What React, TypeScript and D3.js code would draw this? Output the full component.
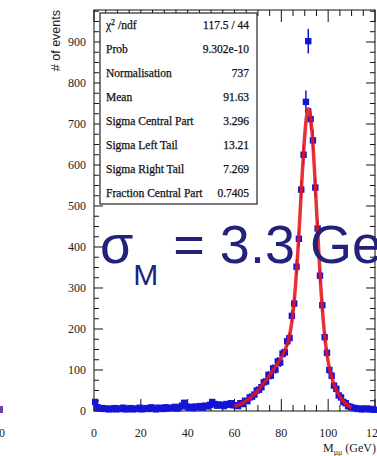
import React from 'react';
import * as d3 from 'd3';

// Histogram: 1 GeV bins from 0 to 120 GeV (bin i covers [i, i+1))
const binLow = d3.range(0, 120, 1);
const counts = [
  22, 9, 6, 7, 5, 6, 4, 5, 7, 4, 6, 5, 8, 4, 5, 7, 4, 6, 5, 8,
  4, 6, 7, 5, 9, 6, 4, 8, 7, 5, 9, 6, 8, 7, 10, 6, 9, 13, 20, 11,
  8, 10, 7, 11, 9, 12, 8, 13, 11, 15, 22, 17, 13, 16, 14, 12, 17, 15, 19, 14,
  14, 12, 19, 17, 25, 24, 33, 35, 40, 50, 52, 58, 70, 72, 88, 86, 104, 101, 121, 118,
  140, 143, 170, 178, 232, 262, 352, 420, 540, 625, 754, 902, 712, 660, 545, 445, 330, 258, 180, 142,
  100, 86, 62, 54, 38, 33, 22, 19, 12, 10, 8, 7, 5, 6, 4, 5, 6, 4, 5, 3,
];

// Fitted curve
const fitMass = [60, 62, 64, 66, 68, 70, 72, 74, 76, 78, 80, 82, 83, 84, 85, 86, 87, 88, 89, 90, 91, 91.6, 92, 93, 94, 95, 96, 97, 98, 99, 100, 101, 102, 104, 106, 108, 110];
const fitCounts = [10.9, 15.4, 21.5, 29.1, 38.6, 50, 64.3, 78.7, 95, 112.4, 130.9, 154.3, 172, 199, 241, 302, 383, 482, 585, 673, 727, 737, 733, 688, 603, 495, 386, 290, 215, 159, 120, 93, 73, 45, 27, 15, 7.8];

const xTicks = [0, 20, 40, 60, 80, 100, 120];
const yTicks = [0, 100, 200, 300, 400, 500, 600, 700, 800, 900];

const statsLabels = ['χ² / ndf', 'Prob', 'Normalisation', 'Mean', 'Sigma Central Part', 'Sigma Left Tail', 'Sigma Right Tail', 'Fraction Central Part'];
const statsValues = ['117.5 / 44', '9.302e-10', '737', '91.63', '3.296', '13.21', '7.269', '0.7405'];

export default function App() {
  const W = 377;
  const H = 456;
  const left = 94;
  const right = 375;
  const top = 10;
  const bottom = 411;
  const x = d3.scaleLinear().domain([0, 120]).range([left, right]);
  const y = d3.scaleLinear().domain([0, 978]).range([bottom, top]);

  const xMinor = d3.range(0, 121, 5);
  const yMinor = d3.range(0, 976, 25);

  const line = d3
    .line<number>()
    .x((_, i) => x(fitMass[i]))
    .y((d) => y(d))
    .curve(d3.curveMonotoneX);

  const serif = '"Liberation Serif", "DejaVu Serif", serif';
  const sans = '"Liberation Sans", Arial, sans-serif';
  const blue = '#1414d6';
  const navy = '#22227a';

  return (
    <svg width={W} height={H} style={{ position: 'absolute', left: 0, top: 0, background: '#fff' }}>
      <rect x={0} y={0} width={W} height={H} fill="#fff" />
      {/* remnant of neighbouring chart */}
      <rect x={0} y={406} width={3} height={7} fill="#7040b0" />
      <text x={2} y={437} fontFamily={serif} fontSize={12} textAnchor="middle" fill="#222">0</text>

      {/* frame */}
      <rect x={left} y={top} width={right - left} height={bottom - top} fill="none" stroke="#111" strokeWidth={1} />

      {/* x ticks bottom & top */}
      {xMinor.map((v) => {
        const major = v % 20 === 0;
        const len = major ? 12 : 6;
        return (
          <g key={'xt' + v}>
            <line x1={x(v)} x2={x(v)} y1={bottom} y2={bottom - len} stroke="#111" strokeWidth={1} />
            <line x1={x(v)} x2={x(v)} y1={top} y2={top + len} stroke="#111" strokeWidth={1} />
          </g>
        );
      })}
      {/* y ticks left & right */}
      {yMinor.map((v) => {
        const major = v % 100 === 0;
        const len = major ? 9 : 5;
        return (
          <g key={'yt' + v}>
            <line x1={left} x2={left + len} y1={y(v)} y2={y(v)} stroke="#111" strokeWidth={1} />
            <line x1={right} x2={right - len} y1={y(v)} y2={y(v)} stroke="#111" strokeWidth={1} />
          </g>
        );
      })}

      {/* tick labels */}
      {xTicks.map((v) => (
        <text key={'xl' + v} x={x(v)} y={bottom + 26} fontFamily={serif} fontSize={12} textAnchor="middle" fill="#222">{v}</text>
      ))}
      {yTicks.map((v) => (
        <text key={'yl' + v} x={86} y={y(v) + 4} fontFamily={serif} fontSize={12} textAnchor="end" fill="#222">{v}</text>
      ))}

      {/* axis titles */}
      <text transform={`translate(60,${top}) rotate(-90)`} fontFamily={sans} fontSize={12.5} textAnchor="end" fill="#222"># of events</text>
      <text x={376} y={452} fontFamily={serif} fontSize={12} textAnchor="end" fill="#222">
        M<tspan fontSize={8} dy={3}>μμ</tspan><tspan dy={-3}> (GeV)</tspan>
      </text>

      {/* data points */}
      {counts.map((c, i) => {
        const cx = x(binLow[i] + 0.5);
        const e = Math.sqrt(c);
        return (
          <g key={'p' + i}>
            <line x1={cx} x2={cx} y1={y(c + e)} y2={y(Math.max(0, c - e))} stroke={blue} strokeWidth={1.5} />
            <rect x={cx - 3.2} y={y(c) - 3.2} width={6.4} height={6.4} fill={blue} />
          </g>
        );
      })}

      {/* fit curve */}
      <path d={line(fitCounts) || ''} fill="none" stroke="#e8141c" strokeWidth={3.5} strokeOpacity={0.88} strokeLinejoin="round" />

      {/* stats box */}
      <rect x={100} y={13} width={157} height={191} fill="#fff" stroke="#222" strokeWidth={1.2} />
      {statsLabels.map((lab, i) => {
        const cy = 25 + i * 24 + 4;
        return (
          <g key={'s' + i} stroke="#111" strokeWidth={0.25}>
            {i === 0 ? (
              <text x={106} y={cy} fontFamily={serif} fontSize={11.5} fill="#111">
                χ<tspan fontSize={8} dy={-4}>2</tspan><tspan dy={4}> /ndf</tspan>
              </text>
            ) : (
              <text x={106} y={cy} fontFamily={serif} fontSize={11.5} fill="#111">{lab}</text>
            )}
            <text x={249} y={cy} fontFamily={serif} fontSize={11.5} textAnchor="end" fill="#111">{statsValues[i]}</text>
          </g>
        );
      })}

      {/* annotation */}
      <text x={100} y={263} fontFamily={sans} fontSize={54} fill={navy}>
        σ<tspan fontSize={30} dy={22}>M</tspan><tspan dy={-22}> = 3.3 GeV</tspan>
      </text>
    </svg>
  );
}
